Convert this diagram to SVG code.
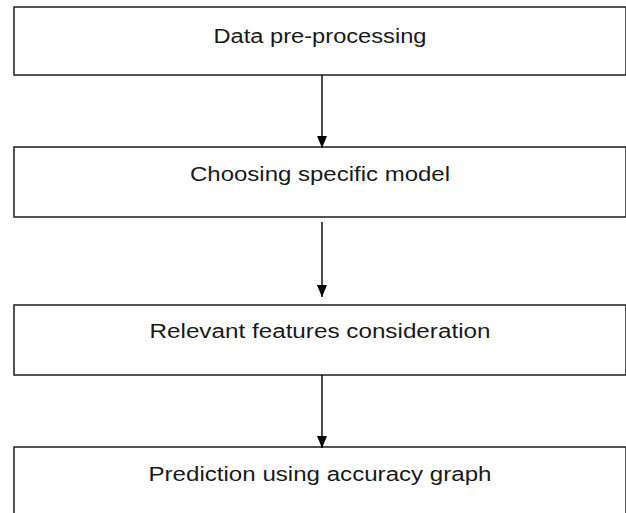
<svg xmlns="http://www.w3.org/2000/svg" width="626" height="513" viewBox="0 0 626 513">
<defs>
<marker id="ah" markerUnits="userSpaceOnUse" markerWidth="13" markerHeight="12" refX="12" refY="6" orient="auto" viewBox="0 0 13 12">
<path d="M0,1 L12,6 L0,11 Z" fill="#000"/>
</marker>
<style>
.box{fill:#fff;stroke:#2a2a2a;stroke-width:1.6}
.lbl{font-family:"Liberation Sans",Arial,sans-serif;font-size:19.5px;fill:#1a1a1a;text-anchor:middle}
.conn{stroke:#000;stroke-width:1.4;fill:none}
</style>
</defs>
<rect width="626" height="513" fill="#fff"/>
<g id="node1">
<rect class="box" x="14" y="7" width="612" height="68"/>
<text class="lbl" x="320" y="43" textLength="213" lengthAdjust="spacingAndGlyphs">Data pre-processing</text>
</g>
<g id="node2">
<rect class="box" x="14" y="147" width="612" height="70"/>
<text class="lbl" x="320" y="181" textLength="260" lengthAdjust="spacingAndGlyphs">Choosing specific model</text>
</g>
<g id="node3">
<rect class="box" x="14" y="305" width="612" height="70"/>
<text class="lbl" x="320" y="338" textLength="341" lengthAdjust="spacingAndGlyphs">Relevant features consideration</text>
</g>
<g id="node4">
<rect class="box" x="14" y="447" width="612" height="80"/>
<text class="lbl" x="320" y="481" textLength="343" lengthAdjust="spacingAndGlyphs">Prediction using accuracy graph</text>
</g>
<g id="connectors">
<line class="conn" x1="322" y1="75" x2="322" y2="148" marker-end="url(#ah)"/>
<line class="conn" x1="322" y1="222" x2="322" y2="297" marker-end="url(#ah)"/>
<line class="conn" x1="322" y1="375" x2="322" y2="448" marker-end="url(#ah)"/>
</g>
</svg>
